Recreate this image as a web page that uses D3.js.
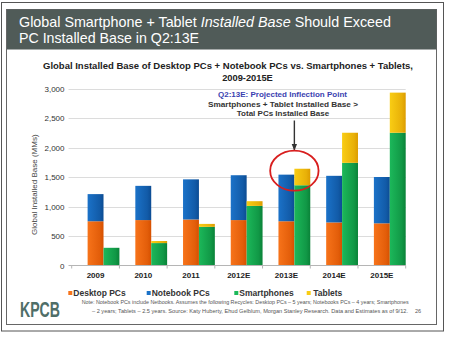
<!DOCTYPE html>
<html>
<head>
<meta charset="utf-8">
<script src="https://cdn.jsdelivr.net/npm/d3@7"></script>
<style>
html,body{margin:0;padding:0;background:#fff;}
svg{display:block;font-family:"Liberation Sans",Arial,sans-serif;}
</style>
</head>
<body>
<svg id="chart" width="450" height="338"></svg>
<script>
// ---- data ----
const categories = ["2009","2010","2011","2012E","2013E","2014E","2015E"];
const desktopPCs  = [750, 770, 780, 770, 750, 730, 715];
const notebookPCs = [460, 580, 680, 760, 790, 790, 785];
const smartphones = [300, 380, 655, 1010, 1360, 1740, 2250];
const tablets     = [0, 35, 50, 80, 280, 510, 680];
const yTicks = [0, 500, 1000, 1500, 2000, 2500, 3000];
const seriesNames = ["Desktop PCs","Notebook PCs","Smartphones","Tablets"];

const colors = {
  "Desktop PCs":  ["#f7731a", "#d65000"],
  "Notebook PCs": ["#1b72c8", "#0c4c93"],
  "Smartphones":  ["#1cb85a", "#0a8238"],
  "Tablets":      ["#f9cd14", "#dc9c00"]
};

const svg = d3.select("#chart");
const defs = svg.append("defs");
Object.entries(colors).forEach(([k,[c1,c2]],i)=>{
  const g = defs.append("linearGradient").attr("id","g"+i).attr("x1","0").attr("x2","1").attr("y1","0").attr("y2","0");
  g.append("stop").attr("offset","0%").attr("stop-color",c1);
  g.append("stop").attr("offset","75%").attr("stop-color",d3.interpolateRgb(c1,c2)(0.6));
  g.append("stop").attr("offset","100%").attr("stop-color",c2);
});
const fillOf = name => "url(#g"+seriesNames.indexOf(name)+")";

// frame
svg.append("rect").attr("x",1.5).attr("y",2.5).attr("width",442).attr("height",328.5)
  .attr("fill","#fff").attr("stroke","#555").attr("stroke-width",1);
svg.append("rect").attr("x",6.5).attr("y",9.5).attr("width",430).attr("height",315)
  .attr("fill","#fff").attr("stroke","#666").attr("stroke-width",1);
svg.append("rect").attr("x",7).attr("y",9.5).attr("width",429.5).attr("height",40)
  .attr("fill","#505b58");

// title
const t1 = svg.append("text").attr("x",19).attr("y",27.3).attr("fill","#fff").attr("font-size",15)
  .attr("textLength",372).attr("lengthAdjust","spacingAndGlyphs");
t1.append("tspan").text("Global Smartphone + Tablet ");
t1.append("tspan").attr("font-style","italic").text("Installed Base");
t1.append("tspan").text(" Should Exceed");
svg.append("text").attr("x",19).attr("y",43.3).attr("fill","#fff").attr("font-size",15)
  .attr("textLength",180).attr("lengthAdjust","spacingAndGlyphs")
  .text("PC Installed Base in Q2:13E");

// chart subtitle
svg.append("text").attr("x",228).attr("y",68.5).attr("text-anchor","middle")
  .attr("font-size",9.3).attr("font-weight","bold").attr("fill","#222")
  .attr("textLength",370).attr("lengthAdjust","spacingAndGlyphs")
  .text("Global Installed Base of Desktop PCs + Notebook PCs vs. Smartphones + Tablets,");
svg.append("text").attr("x",247.5).attr("y",80.5).attr("text-anchor","middle")
  .attr("font-size",9.3).attr("font-weight","bold").attr("fill","#222")
  .text("2009-2015E");

// scales
const x = d3.scaleBand().domain(categories).range([71.7, 405.7]).padding(0);
const sub = d3.scaleBand().domain(["gap","pc","mobile"]).range([0, x.bandwidth()]).padding(0);
const y = d3.scaleLinear().domain([0,3000]).range([265.5, 88.5]);

// grid
svg.append("g").selectAll("line").data(yTicks.filter(d=>d>0)).join("line")
  .attr("x1",68.5).attr("x2",405.7)
  .attr("y1",d=>Math.round(y(d))+0.5).attr("y2",d=>Math.round(y(d))+0.5)
  .attr("stroke","#dcdcdc").attr("stroke-width",1);

// y axis labels
const yAxis = d3.axisLeft(y).tickValues(yTicks).tickFormat(d3.format(",")).tickSize(0).tickPadding(0);
const gy = svg.append("g").attr("transform","translate(64.5,0)").call(yAxis);
gy.select(".domain").remove();
gy.selectAll("text").attr("font-size",8).attr("fill","#333").attr("font-family","Liberation Sans, Arial, sans-serif");

// y title
svg.append("text").attr("transform","translate(37,184.7) rotate(-90)").attr("text-anchor","middle")
  .attr("font-size",8).attr("fill","#444").text("Global Installed Base (MMs)");

// stacks
const rows = categories.map((c,i)=>({cat:c,"Desktop PCs":desktopPCs[i],"Notebook PCs":notebookPCs[i],"Smartphones":smartphones[i],"Tablets":tablets[i]}));
const pcStack = d3.stack().keys(["Desktop PCs","Notebook PCs"])(rows);
const mobStack = d3.stack().keys(["Smartphones","Tablets"])(rows);

function drawStack(stack, slot){
  svg.append("g").selectAll("g").data(stack).join("g")
    .attr("fill",s=>fillOf(s.key))
    .selectAll("rect").data(s=>s).join("rect")
    .attr("x",d=>x(d.data.cat)+sub(slot))
    .attr("width",sub.bandwidth())
    .attr("y",d=>y(d[1]))
    .attr("height",d=>Math.max(0,y(d[0])-y(d[1])));
}
drawStack(pcStack,"pc");
drawStack(mobStack,"mobile");

// x axis
const xAxis = d3.axisBottom(x).tickSize(0).tickPadding(7);
const gx = svg.append("g").attr("transform","translate(0,265.5)").call(xAxis);
gx.select(".domain").attr("stroke","#b5b5b5").attr("d","M68.5,0H405.7");
gx.selectAll("text").attr("font-size",8).attr("font-weight","bold").attr("fill","#222")
  .attr("font-family","Liberation Sans, Arial, sans-serif");
gx.append("g").selectAll("line").data(categories.concat(["end"])).join("line")
  .attr("x1",(d,i)=>71.7+i*x.bandwidth()).attr("x2",(d,i)=>71.7+i*x.bandwidth())
  .attr("y1",0).attr("y2",3).attr("stroke","#b5b5b5");

// annotation
const cx = x("2013E")+sub("mobile");
svg.append("text").attr("x",282.5).attr("y",96.5).attr("text-anchor","middle").attr("font-size",8)
  .attr("font-weight","bold").attr("fill","#3a3fb0").text("Q2:13E: Projected Inflection Point");
svg.append("text").attr("x",283).attr("y",106.5).attr("text-anchor","middle").attr("font-size",8)
  .attr("font-weight","bold").attr("fill","#333")
  .attr("textLength",150).attr("lengthAdjust","spacingAndGlyphs")
  .text("Smartphones + Tablet Installed Base >");
svg.append("text").attr("x",283).attr("y",116.2).attr("text-anchor","middle").attr("font-size",8)
  .attr("font-weight","bold").attr("fill","#333").text("Total PCs Installed Base");
defs.append("marker").attr("id","arr").attr("viewBox","0 0 10 10").attr("refX",9).attr("refY",5)
  .attr("markerWidth",5).attr("markerHeight",5).attr("orient","auto")
  .append("path").attr("d","M0,1L10,5L0,9Z").attr("fill","#333");
svg.append("line").attr("x1",cx).attr("x2",cx).attr("y1",120.5).attr("y2",150)
  .attr("stroke","#333").attr("stroke-width",1.4).attr("marker-end","url(#arr)");
svg.append("ellipse").attr("cx",cx).attr("cy",170.7).attr("rx",24.2).attr("ry",20)
  .attr("fill","none").attr("stroke","#d81e1e").attr("stroke-width",1.8);

// legend
const legendX = [68.3, 146.7, 234.3, 306.7];
const lg = svg.append("g").selectAll("g").data(seriesNames).join("g")
  .attr("transform",(d,i)=>`translate(${legendX[i]},293)`);
lg.append("rect").attr("x",0).attr("y",-2).attr("width",4).attr("height",4)
  .attr("fill",d=>colors[d][0]);
lg.append("text").attr("x",(d,i)=> i===3?6.5:5).attr("y",3).attr("font-size",8.5).attr("font-weight","bold")
  .attr("fill","#333").text(d=>d);

// logo + notes
svg.append("text").attr("x",20).attr("y",316.7).attr("font-size",22).attr("font-weight","bold")
  .attr("fill","#4f6e68").attr("font-family","Liberation Sans Narrow, Liberation Sans, Arial, sans-serif")
  .attr("textLength",40).attr("lengthAdjust","spacingAndGlyphs").text("KPCB");
svg.append("text").attr("x",81.7).attr("y",304).attr("font-size",5).attr("fill","#555")
  .attr("textLength",327).attr("lengthAdjust","spacingAndGlyphs")
  .text("Note: Notebook PCs include Netbooks. Assumes the following Recycles: Desktop PCs – 5 years; Notebooks PCs – 4 years; Smartphones");
svg.append("text").attr("x",408).attr("y",313.3).attr("text-anchor","end").attr("font-size",5).attr("fill","#555")
  .attr("textLength",316).attr("lengthAdjust","spacingAndGlyphs")
  .text("– 2 years; Tablets – 2.5 years. Source: Katy Huberty, Ehud Gelblum, Morgan Stanley Research. Data and Estimates as of 9/12.");
svg.append("text").attr("x",418).attr("y",313.3).attr("text-anchor","middle").attr("font-size",5.5).attr("fill","#555").text("26");
</script>
</body>
</html>
